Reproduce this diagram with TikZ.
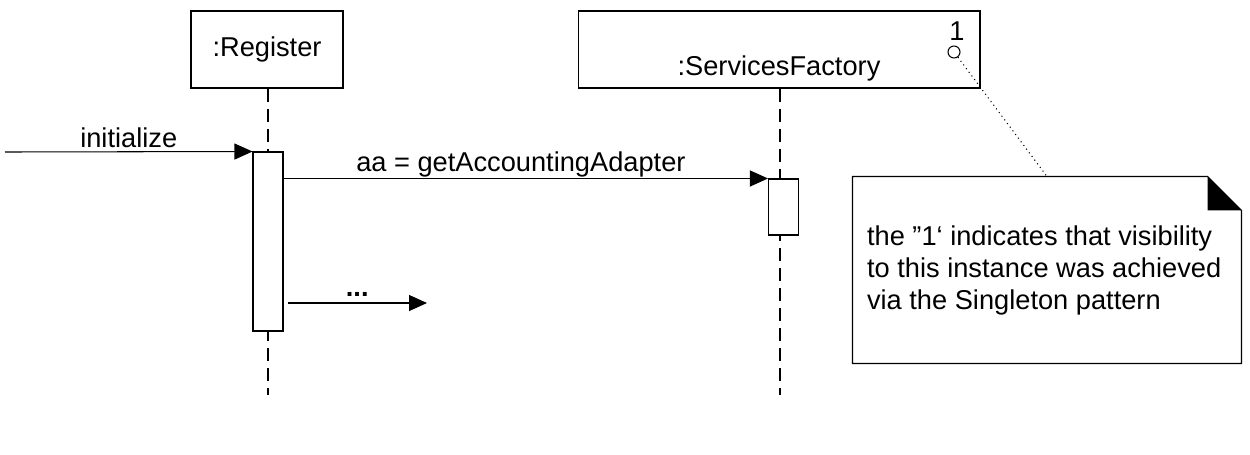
\documentclass[tikz,border=0pt]{standalone}
\usepackage{fontspec}
\setmainfont{Liberation Sans}
\usetikzlibrary{arrows.meta, positioning}

\begin{document}
\begin{tikzpicture}[
x=0.02cm, y=-0.02cm,
>={Triangle[length=0.36cm, width=0.32cm]},
line width=0.6pt,
font=\fontsize{15.5pt}{18.2pt}\selectfont,
objbox/.style={rectangle, draw, minimum height=1.54cm},
actbox/.style={rectangle, draw, fill=white, minimum width=0.6cm},
lifeline/.style={dash pattern=on 0.26cm off 0.14cm},
msg/.style={->},
notebox/.style={rectangle, minimum width=7.76cm, minimum height=3.72cm}
]
\useasboundingbox (0,0) rectangle (1250,454);

% objects
\node[objbox, minimum width=3.04cm] (reg) at (267,49.5) {:Register};
\node[objbox, minimum width=8.04cm] (fac) at (779,49.5) {};
\node[above=0.02cm of fac.south] (faclabel) {:ServicesFactory};
\node (mult) at (957,31) {1};
\node[circle, draw, minimum size=0.24cm, inner sep=0] (circ) at (954,52) {};

% lifelines
\coordinate (regend) at (268,395);
\coordinate (facend) at (780,395);
\draw[lifeline] (reg.south -| regend) -- (regend);
\draw[lifeline] (fac.south -| facend) -- (facend);

% activations
\node[actbox, minimum height=3.58cm] (regact) at (268,241.5) {};
\node[actbox, minimum height=1.12cm] (facact) at (783.5,207) {};

% messages
\coordinate (start) at (5,152);
\draw[msg] (start) -- (regact.north west) node[midway, above=-0.04cm] {initialize};
\draw[msg] (regact.east |- facact.north) -- (facact.north west) node[pos=0.49, above=-0.1cm] {aa = getAccountingAdapter};
\coordinate (dotsend) at (427,303);
\draw[msg] ([xshift=0.08cm]regact.east |- dotsend) -- (dotsend) node[pos=0.5, above=0] {\textbf{...}};

% note
\node[notebox] (note) at (1047,270) {};
\node[anchor=west, align=left, inner sep=0] (notetext) at ([xshift=0.28cm]note.west) {the ”1‘ indicates that visibility\\to this instance was achieved\\via the Singleton pattern};
\draw (note.north west) -- ([xshift=-0.68cm]note.north east) -- ([yshift=-0.68cm]note.north east) -- (note.south east) -- (note.south west) -- cycle;
\fill ([xshift=-0.68cm]note.north east) -- ([yshift=-0.68cm]note.north east) -- ([xshift=-0.68cm, yshift=-0.68cm]note.north east) -- cycle;
\draw[dotted] (circ) -- (note.north);

\end{tikzpicture}
\end{document}
